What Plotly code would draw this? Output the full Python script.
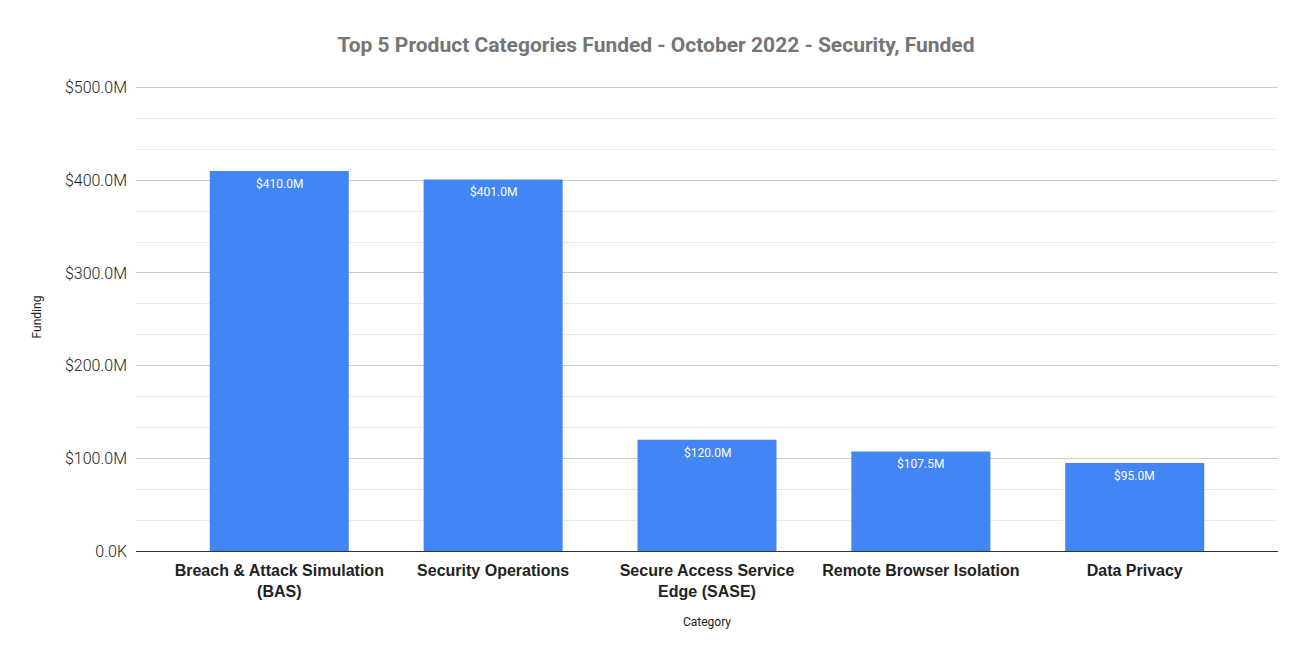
import plotly.graph_objects as go

categories = ["Breach & Attack Simulation<br>(BAS)", "Security Operations",
              "Secure Access Service<br>Edge (SASE)", "Remote Browser Isolation", "Data Privacy"]
funding = [410.0e6, 401.0e6, 120.0e6, 107.5e6, 95.0e6]
bar_labels = ["$410.0M", "$401.0M", "$120.0M", "$107.5M", "$95.0M"]
y_tickvals = [0, 100e6, 200e6, 300e6, 400e6, 500e6]
y_ticktext = ["0.0K", "$100.0M", "$200.0M", "$300.0M", "$400.0M", "$500.0M"]

xs = list(range(len(categories)))
fig = go.Figure(go.Bar(
    x=xs, y=funding,
    marker=dict(color="#4285f4", line=dict(width=0)),
    width=0.65, hoverinfo="skip",
))

for x, y, t in zip(xs, funding, bar_labels):
    fig.add_annotation(x=x, y=y, text=t, showarrow=False, yanchor="top", yshift=-4,
                       font=dict(family="Roboto", size=12, color="white"))

fig.update_layout(
    width=1312, height=663,
    margin=dict(l=128, r=42, t=75, b=120),
    paper_bgcolor="white", plot_bgcolor="white",
    title=dict(text="<b>Top 5 Product Categories Funded - October 2022 - Security, Funded</b>",
               x=0.4939, xanchor="center", y=0.944, yanchor="middle",
               font=dict(family="Roboto", size=21, color="#757575")),
    showlegend=False,
)
fig.update_xaxes(
    tickvals=xs, ticktext=[f"<b>{c}</b>" for c in categories],
    range=[-0.67, 4.67], showgrid=False, showline=True, linecolor="#333333", linewidth=1,
    tickfont=dict(family="Liberation Sans, Arial", size=16, color="#222222"),
    ticks="", ticklabelstandoff=5,
    title=dict(text="Category", font=dict(family="Roboto", size=12, color="#222222"), standoff=18),
)
fig.update_yaxes(
    range=[0, 505e6], tickvals=y_tickvals, ticktext=y_ticktext,
    showgrid=True, gridcolor="#cccccc", gridwidth=1, zeroline=False,
    minor=dict(dtick=100e6 / 3, showgrid=True, gridcolor="#ebebeb", gridwidth=1),
    tickfont=dict(family="Roboto", size=16, color="#222222", weight=300),
    ticks="", ticklabelstandoff=8,
    title=dict(text="Funding", font=dict(family="Roboto", size=12, color="#222222"), standoff=20),
)

fig.write_html("out.html")
